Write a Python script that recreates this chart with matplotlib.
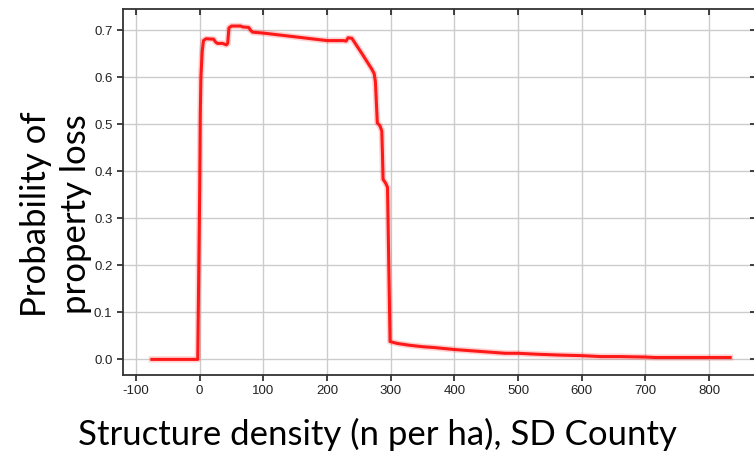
import matplotlib
matplotlib.use("Agg")
import matplotlib.pyplot as plt

# probability of property loss vs structure density (SD County)
density = [-75, -3, 0, 1, 2, 4, 6, 10, 22, 25, 28, 36, 42, 44, 46, 50, 64, 68, 77, 80,
           83, 100, 150, 200, 226, 230, 233, 239, 255, 270, 274, 276, 279, 283, 286,
           287, 288, 292, 295, 297, 299, 310, 330, 350, 370, 400, 420, 450, 480, 500,
           530, 570, 600, 630, 660, 700, 715, 760, 800, 833]
prob = [0.0, 0.0, 0.35, 0.52, 0.60, 0.655, 0.678, 0.682, 0.681, 0.675, 0.672, 0.672, 0.669,
        0.672, 0.705, 0.709, 0.709, 0.707, 0.706, 0.700, 0.696, 0.694, 0.686, 0.678, 0.678,
        0.677, 0.684, 0.683, 0.650, 0.618, 0.608, 0.590, 0.503, 0.497, 0.486, 0.440, 0.383,
        0.375, 0.366, 0.200, 0.038, 0.034, 0.030, 0.027, 0.025, 0.021, 0.019, 0.016, 0.013,
        0.013, 0.011, 0.009, 0.008, 0.006, 0.006, 0.005, 0.004, 0.004, 0.004, 0.004]

xticks = [-100, 0, 100, 200, 300, 400, 500, 600, 700, 800]
yticks = [0.0, 0.1, 0.2, 0.3, 0.4, 0.5, 0.6, 0.7]

fig = plt.figure(figsize=(7.54, 4.55), dpi=100)
ax = fig.add_axes([0.163, 0.176, 0.84, 0.804])

ax.plot(density, prob, color="#ff0000", lw=4.5, alpha=0.18, solid_joinstyle="round", zorder=3)
ax.plot(density, prob, color="#ff1a1a", lw=2.2, solid_joinstyle="round", zorder=4)

ax.set_xlim(-120.5, 874)
ax.set_ylim(-0.033, 0.745)
ax.set_xticks(xticks)
ax.set_yticks(yticks)
ax.set_xticklabels([str(t) for t in xticks])
ax.set_yticklabels([f"{t:.1f}" for t in yticks])
ax.tick_params(axis="both", labelsize=9.5, color="#222", length=4, width=1.2)
ax.tick_params(top=True, right=True, which="both")
for t in ax.get_xticklabels() + ax.get_yticklabels():
    t.set_family(["Liberation Sans Narrow", "Liberation Sans"])
    t.set_color("#222")
# inward ticks on top/right, outward on bottom/left
for tk in ax.xaxis.get_major_ticks():
    tk.tick2line.set_marker(matplotlib.lines.TICKDOWN)
for tk in ax.yaxis.get_major_ticks():
    tk.tick2line.set_marker(matplotlib.lines.TICKLEFT)

ax.grid(True, color="#cccccc", lw=1.0, zorder=0)
for s in ax.spines.values():
    s.set_color("#333333")
    s.set_linewidth(1.3)

fig.text(0.5, 0.045, "Structure density (n per ha), SD County", ha="center", va="center",
         fontsize=25, family="Lato")
fig.text(0.074, 0.53, "Probability of\nproperty loss", ha="center", va="center",
         rotation=90, fontsize=25, family="Lato", linespacing=1.3)

fig.savefig("out.png", dpi=100)
